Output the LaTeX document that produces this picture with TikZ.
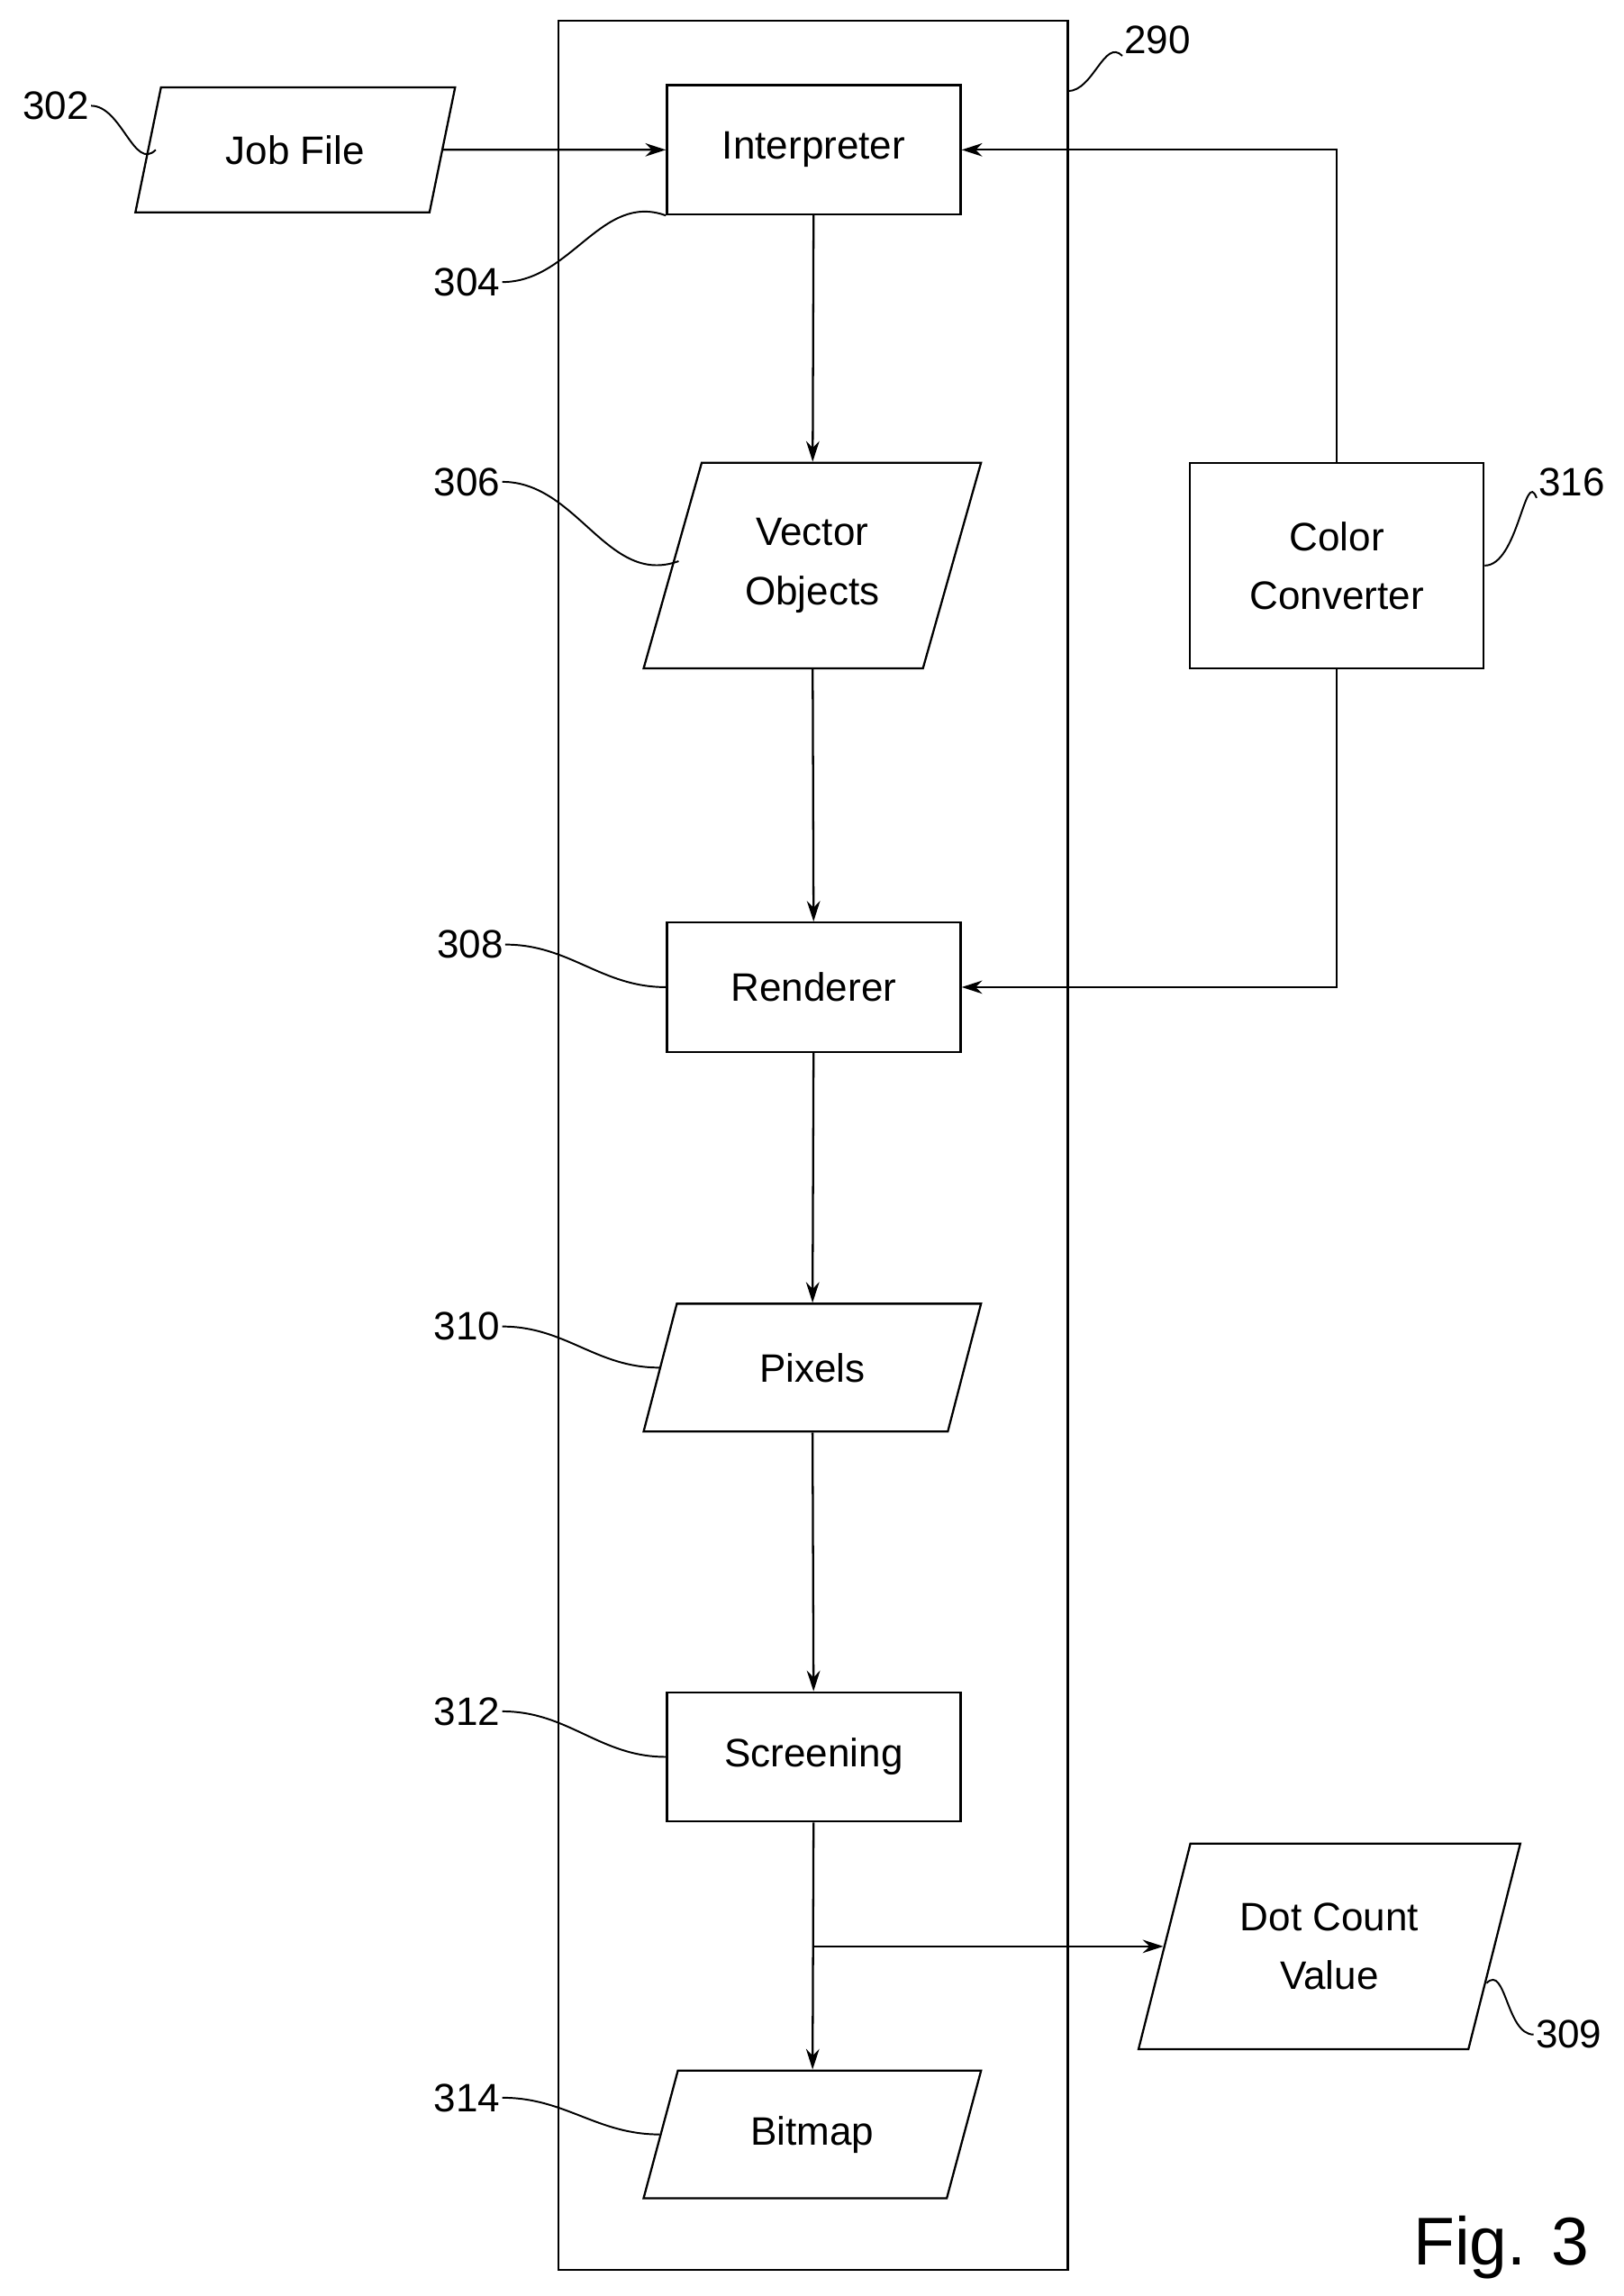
\documentclass[tikz,border=0pt]{standalone}
\usepackage{fontspec}
\setmainfont{Liberation Sans}
\usetikzlibrary{shapes.geometric,arrows.meta}
\tikzset{every picture/.style={line width=1.4pt}}
\tikzset{
  box/.style={draw,rectangle,minimum width=200,minimum height=88,align=center,font=\fontsize{27}{40}\selectfont},
  para/.style={draw,trapezium,trapezium left angle=70,trapezium right angle=110,trapezium stretches=true,align=center,font=\fontsize{27}{40}\selectfont},
  ref/.style={font=\fontsize{27}{32}\selectfont,inner sep=0.75pt},
  flow/.style={-{Stealth[length=14,width=9]}},
  lead/.style={line width=1.2pt}
}
\begin{document}
\begin{tikzpicture}[x=1pt,y=1pt,yscale=-1,xscale=1]
	\useasboundingbox (0,0) rectangle (1105,1563);

	%Frame 290
	\draw (380,14) rectangle (727,1545);
	\node[ref] (n290) at (788,27) {290};
	\draw[lead] (727,62) to[out=0,in=225] (n290.south west);

	% Text Nodes
	\node[para,minimum width=218,minimum height=85] (job) at (201,102) {Job File};
	\node[box] (interp) at (554,102) {Interpreter};
	\node[para,minimum width=230,minimum height=140] (vector) at (553,385) {Vector\\Objects};
	\node[box] (render) at (554,672) {Renderer};
	\node[para,minimum width=230,minimum height=87] (pixels) at (553,931) {Pixels};
	\node[box] (screen) at (554,1196) {Screening};
	\node[para,minimum width=230,minimum height=87] (bitmap) at (553,1453) {Bitmap};
	\node[box,minimum height=140] (color) at (910,385) {Color\\Converter};
	\node[para,minimum width=260,minimum height=140] (dot) at (905,1325) {Dot Count\\Value};
	\node[font=\fontsize{46}{50}\selectfont] (fig) at (1022,1530) {Fig. 3};

	% Reference numerals
	\node[ref] (n302) at (38,72) {302};
	\node[ref] (n304) at (318,192) {304};
	\node[ref] (n306) at (318,328) {306};
	\node[ref] (n308) at (320,643) {308};
	\node[ref] (n310) at (318,903) {310};
	\node[ref] (n312) at (318,1165) {312};
	\node[ref] (n314) at (318,1428) {314};
	\node[ref] (n316) at (1070,328) {316};
	\node[ref] (n309) at (1068,1385) {309};

	% Leaders
	\draw[lead] (n302.east) to[out=0,in=135] (106,102);
	\draw[lead] (n304.east) to[out=0,in=200] (interp.south west);
	\draw[lead] (n306.east) to[out=0,in=160] (462,382);
	\draw[lead] (n308.east) to[out=0,in=180] (render.west);
	\draw[lead] (n310.east) to[out=0,in=180] (pixels.west);
	\draw[lead] (n312.east) to[out=0,in=180] (screen.west);
	\draw[lead] (n314.east) to[out=0,in=180] (bitmap.west);
	\draw[lead] (color.east) to[out=0,in=250] (n316.south west);
	\draw[lead] (1012,1350) to[out=-45,in=180] (n309.west);

	% Connectors
	\draw[flow] (job) -- (interp);
	\draw[flow] (interp) -- (vector);
	\draw[flow] (vector) -- (render);
	\draw[flow] (render) -- (pixels);
	\draw[flow] (pixels) -- (screen);
	\draw[flow] (screen) -- (bitmap);
	\coordinate (branch) at (screen.south |- dot.west);
	\draw[flow] (branch) -- (dot.west);
	\draw[flow] (color.north) |- (interp.east);
	\draw[flow] (color.south) |- (render.east);
\end{tikzpicture}
\end{document}
